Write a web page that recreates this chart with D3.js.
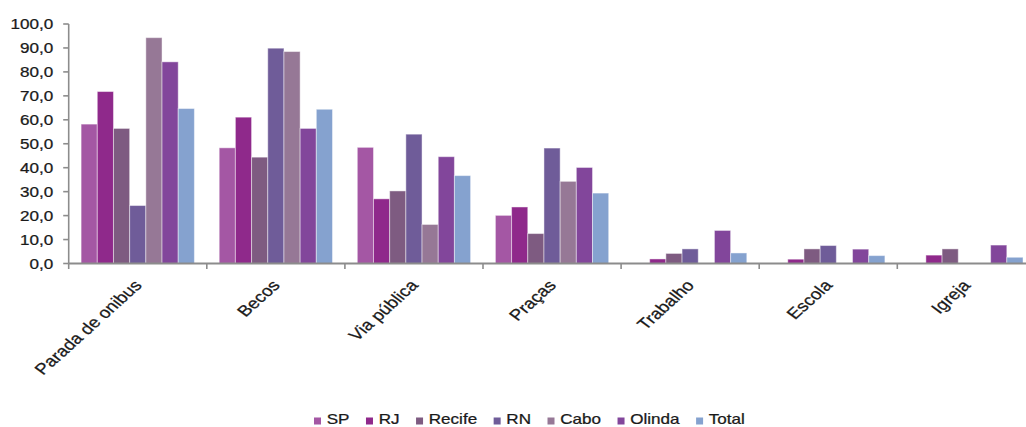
<!DOCTYPE html>
<html>
<head>
<meta charset="utf-8">
<script src="https://cdn.jsdelivr.net/npm/d3@7/dist/d3.min.js"></script>
<style>
  html, body { margin: 0; padding: 0; background: #fff; }
  svg { display: block; }
  text { font-family: "Liberation Sans", Arial, sans-serif; fill: #1a1a1a; stroke: #1a1a1a; stroke-width: 0.25px; }
</style>
</head>
<body>
<svg id="chart" width="1026" height="427"></svg>
<script>
// Locais de ocorrência (%) por cidade
const categories = ["Parada de onibus", "Becos", "Via pública", "Praças", "Trabalho", "Escola", "Igreja"];
const seriesNames = ["SP", "RJ", "Recife", "RN", "Cabo", "Olinda", "Total"];

const SP     = [58.2, 48.3, 48.5, 20.1, 0.0, 0.0, 0.0];
const RJ     = [71.8, 61.1, 27.0, 23.6, 1.9, 1.8, 3.5];
const Recife = [56.4, 44.4, 30.3, 12.5, 4.2, 6.1, 6.1];
const RN     = [24.2, 89.9, 54.0, 48.2, 6.1, 7.5, 0.0];
const Cabo   = [94.3, 88.5, 16.3, 34.3, 0.0, 0.0, 0.0];
const Olinda = [84.2, 56.4, 44.6, 40.1, 13.8, 6.0, 7.7];
const Total  = [64.7, 64.4, 36.7, 29.4, 4.4, 3.3, 2.6];

const yTicks = [0, 10, 20, 30, 40, 50, 60, 70, 80, 90, 100];

const seriesValues = [SP, RJ, Recife, RN, Cabo, Olinda, Total];
const colors = ["#a457a4", "#8f298b", "#7e5b81", "#6f5c99", "#967896", "#82469b", "#85a2cf"];

// Text in this chart is drawn slightly wider than its height
const SX = 1.22;

const svg = d3.select("#chart");

const x0Left = 68.7, step = 138.1;
const x0 = d3.scaleBand()
  .domain(categories)
  .range([x0Left, x0Left + step * categories.length])
  .paddingInner(0).paddingOuter(0);

const pad = 12.4;
const x1 = d3.scaleBand()
  .domain(seriesNames)
  .range([pad, x0.bandwidth() - pad])
  .padding(0);

const y = d3.scaleLinear().domain([0, 100]).range([263.5, 24]);

const color = d3.scaleOrdinal().domain(seriesNames).range(colors);

const fmt = v => d3.format(".1f")(v).replace(".", ",");

// Bars
const groups = svg.append("g").selectAll("g")
  .data(categories)
  .join("g")
  .attr("transform", d => `translate(${x0(d)},0)`);

groups.selectAll("rect")
  .data((c, i) => seriesNames.map((s, k) => ({ s, v: seriesValues[k][i] })))
  .join("rect")
  .filter(d => d.v > 0)
  .attr("x", d => x1(d.s))
  .attr("y", d => y(d.v))
  .attr("width", x1.bandwidth())
  .attr("height", d => y(0) - y(d.v))
  .attr("fill", d => color(d.s))
  .attr("stroke", "rgba(255,255,255,0.45)")
  .attr("stroke-width", 1);

// Y axis
const yAxis = svg.append("g").attr("transform", `translate(${x0Left},0)`);
yAxis.append("line")
  .attr("x1", 0).attr("x2", 0)
  .attr("y1", y(100)).attr("y2", y(0))
  .attr("stroke", "#8c8c8c").attr("stroke-width", 1.6);
yAxis.selectAll("line.tick")
  .data(yTicks)
  .join("line")
  .attr("class", "tick")
  .attr("x1", -5.5).attr("x2", 0)
  .attr("y1", d => y(d)).attr("y2", d => y(d))
  .attr("stroke", "#8c8c8c").attr("stroke-width", 1.6);
yAxis.selectAll("text")
  .data(yTicks)
  .join("text")
  .attr("transform", d => `translate(-15.5,${y(d)}) scale(${SX},1)`)
  .attr("text-anchor", "end")
  .attr("dy", "0.36em")
  .attr("font-size", 14)
  .text(d => fmt(d));

// X axis
const xAxis = svg.append("g");
const xRange = x0.range();
xAxis.append("line")
  .attr("x1", xRange[0]).attr("x2", xRange[1])
  .attr("y1", y(0)).attr("y2", y(0))
  .attr("stroke", "#8c8c8c").attr("stroke-width", 1.8);
xAxis.selectAll("line.tick")
  .data(categories.concat([null]))
  .join("line")
  .attr("class", "tick")
  .attr("x1", (d, i) => xRange[0] + i * x0.step())
  .attr("x2", (d, i) => xRange[0] + i * x0.step())
  .attr("y1", y(0)).attr("y2", y(0) + 5.5)
  .attr("stroke", "#8c8c8c").attr("stroke-width", 1.6);
xAxis.selectAll("text")
  .data(categories)
  .join("text")
  .attr("transform", d => `translate(${x0(d) + x0.bandwidth() / 2 + 5},286) scale(${SX},1) rotate(-47.7)`)
  .attr("text-anchor", "end")
  .attr("font-size", 15.5)
  .text(d => d);

// Legend
const legend = svg.append("g");
let lx = 314;
seriesNames.forEach(s => {
  const item = legend.append("g");
  item.append("rect")
    .attr("x", lx).attr("y", 417.5)
    .attr("width", 7).attr("height", 7)
    .attr("fill", color(s));
  const t = item.append("text")
    .attr("transform", `translate(${lx + 12.7},424.3) scale(${SX},1)`)
    .attr("font-size", 14)
    .text(s);
  const w = t.node().getComputedTextLength() * SX;
  lx += 12.7 + w + 16.5;
});
</script>
</body>
</html>
